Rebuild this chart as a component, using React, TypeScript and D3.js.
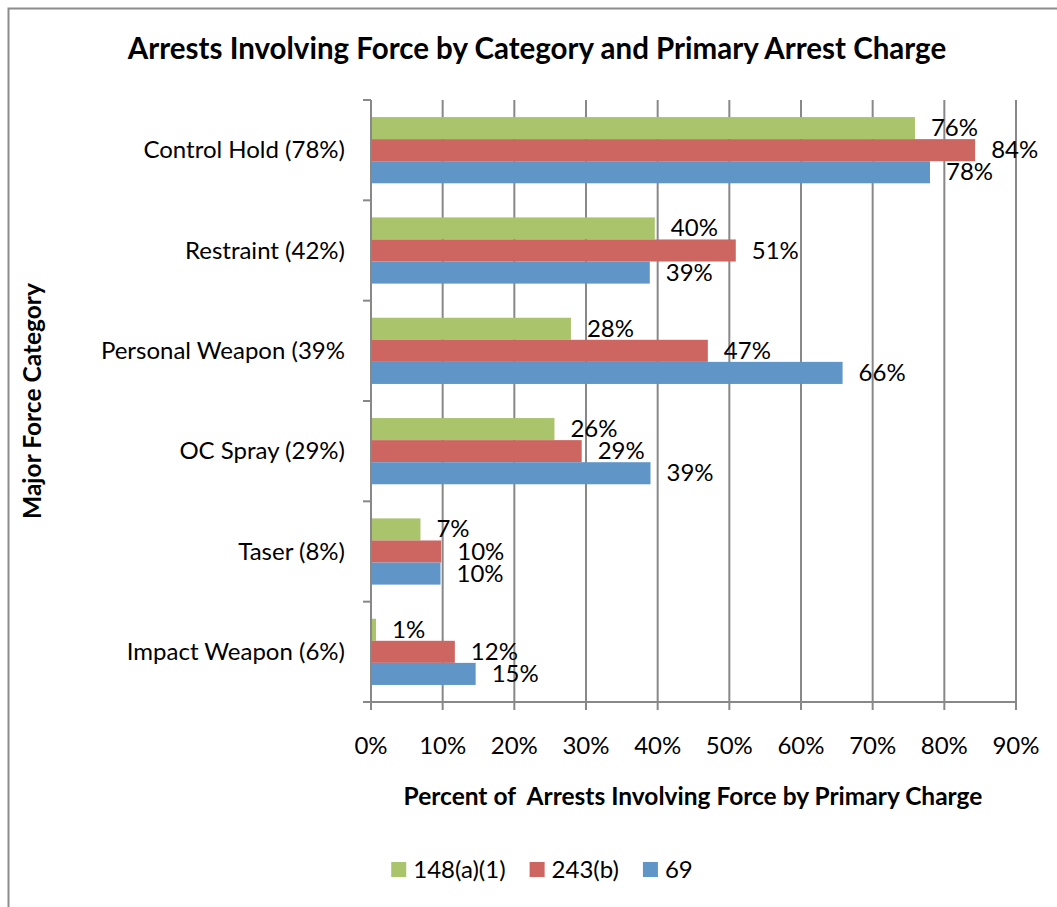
import React, { useRef, useEffect } from 'react';
import * as d3 from 'd3';

// categories top to bottom
const categories = [
  'Control Hold (78%)',
  'Restraint (42%)',
  'Personal Weapon (39%',
  'OC Spray (29%)',
  'Taser (8%)',
  'Impact Weapon (6%)',
];

const seriesNames = ['148(a)(1)', '243(b)', '69'];
const seriesColors = ['#AAC46C', '#CD6661', '#5F95C7'];

// percent values per series, in category order
const values148 = [75.9, 39.6, 27.9, 25.6, 6.9, 0.7];
const values243 = [84.3, 50.9, 47.0, 29.4, 9.8, 11.7];
const values69 = [78.0, 38.9, 65.8, 39.0, 9.7, 14.6];

const xTicks = [0, 10, 20, 30, 40, 50, 60, 70, 80, 90];

const FONT = 'Lato, "Open Sans", sans-serif';

const App: React.FC = () => {
  const svgRef = useRef<SVGSVGElement>(null);
  const width = 1057;
  const height = 907;

  useEffect(() => {
    if (!svgRef.current) return;
    const svg = d3.select(svgRef.current);
    svg.selectAll('*').remove();

    const plot = { left: 371, right: 1016, top: 100, bottom: 702 };
    const series = [values148, values243, values69];

    const x = d3.scaleLinear().domain([0, 90]).range([plot.left, plot.right]);
    const y = d3.scaleBand<string>()
      .domain(categories)
      .range([plot.top, plot.bottom])
      .paddingInner(0.34)
      .paddingOuter(0.17);
    const ySub = d3.scaleBand<string>()
      .domain(seriesNames)
      .range([0, y.bandwidth()]);

    // outer chart border (only left/top visible)
    svg.append('rect')
      .attr('x', 8.5)
      .attr('y', 8.5)
      .attr('width', 1200)
      .attr('height', 1200)
      .attr('fill', 'white')
      .attr('stroke', '#8c8c8c')
      .attr('stroke-width', 2);

    // vertical gridlines + bottom ticks
    svg.append('g')
      .selectAll('line')
      .data(xTicks.slice(1))
      .enter()
      .append('line')
      .attr('x1', d => x(d))
      .attr('x2', d => x(d))
      .attr('y1', plot.top)
      .attr('y2', plot.bottom + 8)
      .attr('stroke', '#888888')
      .attr('stroke-width', 2);

    // bars
    series.forEach((vals, si) => {
      svg.append('g')
        .selectAll('rect')
        .data(vals)
        .enter()
        .append('rect')
        .attr('x', x(0))
        .attr('y', (_, i) => (y(categories[i]) || 0) + (ySub(seriesNames[si]) || 0))
        .attr('width', d => x(d) - x(0))
        .attr('height', ySub.bandwidth())
        .attr('fill', seriesColors[si]);
    });

    // y axis line with category ticks
    svg.append('line')
      .attr('x1', plot.left)
      .attr('x2', plot.left)
      .attr('y1', plot.top)
      .attr('y2', plot.bottom + 8)
      .attr('stroke', '#888888')
      .attr('stroke-width', 2);

    const step = y.step();
    svg.append('g')
      .selectAll('line')
      .data(d3.range(categories.length + 1))
      .enter()
      .append('line')
      .attr('x1', plot.left - 8)
      .attr('x2', plot.left)
      .attr('y1', i => plot.top + i * step)
      .attr('y2', i => plot.top + i * step)
      .attr('stroke', '#888888')
      .attr('stroke-width', 2);

    // x axis line
    svg.append('line')
      .attr('x1', plot.left - 8)
      .attr('x2', plot.right)
      .attr('y1', plot.bottom)
      .attr('y2', plot.bottom)
      .attr('stroke', '#888888')
      .attr('stroke-width', 2);

    // value labels
    series.forEach((vals, si) => {
      svg.append('g')
        .selectAll('text')
        .data(vals)
        .enter()
        .append('text')
        .attr('x', d => x(d) + 16)
        .attr('y', (_, i) => (y(categories[i]) || 0) + (ySub(seriesNames[si]) || 0) + ySub.bandwidth() / 2 + 8)
        .style('font-family', FONT)
        .style('font-size', '24px')
        .style('fill', '#000')
        .text(d => `${Math.round(d)}%`);
    });

    // category labels
    svg.append('g')
      .selectAll('text')
      .data(categories)
      .enter()
      .append('text')
      .attr('x', plot.left - 26)
      .attr('y', d => (y(d) || 0) + y.bandwidth() / 2 + 8)
      .attr('text-anchor', 'end')
      .style('font-family', FONT)
      .style('font-size', '24px')
      .style('fill', '#000')
      .text(d => d);

    // x tick labels
    svg.append('g')
      .selectAll('text')
      .data(xTicks)
      .enter()
      .append('text')
      .attr('x', d => x(d))
      .attr('y', 754)
      .attr('text-anchor', 'middle')
      .style('font-family', FONT)
      .style('font-size', '24px')
      .style('fill', '#000')
      .text(d => `${d}%`);

    // title
    svg.append('text')
      .attr('x', 537)
      .attr('y', 59)
      .attr('text-anchor', 'middle')
      .style('font-family', FONT)
      .style('font-size', '29.5px')
      .style('font-weight', 'bold')
      .style('fill', '#000')
      .text('Arrests Involving Force by Category and Primary Arrest Charge');

    // x axis title
    svg.append('text')
      .attr('x', 693)
      .attr('y', 805)
      .attr('text-anchor', 'middle')
      .attr('xml:space', 'preserve')
      .style('font-family', FONT)
      .style('font-size', '24.5px')
      .style('font-weight', 'bold')
      .style('white-space', 'pre')
      .style('fill', '#000')
      .text('Percent of  Arrests Involving Force by Primary Charge');

    // y axis title
    svg.append('text')
      .attr('transform', `translate(41, ${(plot.top + plot.bottom) / 2}) rotate(-90)`)
      .attr('text-anchor', 'middle')
      .style('font-family', FONT)
      .style('font-size', '24.5px')
      .style('font-weight', 'bold')
      .style('fill', '#000')
      .text('Major Force Category');

    // legend, centred under the plot
    const legend = svg.append('g');
    const items = seriesNames.map((name, i) => {
      const g = legend.append('g');
      g.append('rect')
        .attr('width', 15)
        .attr('height', 15)
        .attr('y', 862)
        .attr('fill', seriesColors[i]);
      const t = g.append('text')
        .attr('x', 22)
        .attr('y', 878)
        .style('font-family', FONT)
        .style('font-size', '24px')
        .style('fill', '#000')
        .text(name);
      const w = (t.node() as SVGTextElement).getComputedTextLength();
      return { g, w: 22 + w };
    });
    const gap = 24;
    const total = d3.sum(items, d => d.w) + gap * (items.length - 1);
    let cx = 542 - total / 2;
    items.forEach(it => {
      it.g.attr('transform', `translate(${cx}, 0)`);
      cx += it.w + gap;
    });
  }, []);

  return (
    <svg
      ref={svgRef}
      width={width}
      height={height}
      style={{ position: 'absolute', left: 0, top: 0, background: 'white' }}
    />
  );
};

export default App;
